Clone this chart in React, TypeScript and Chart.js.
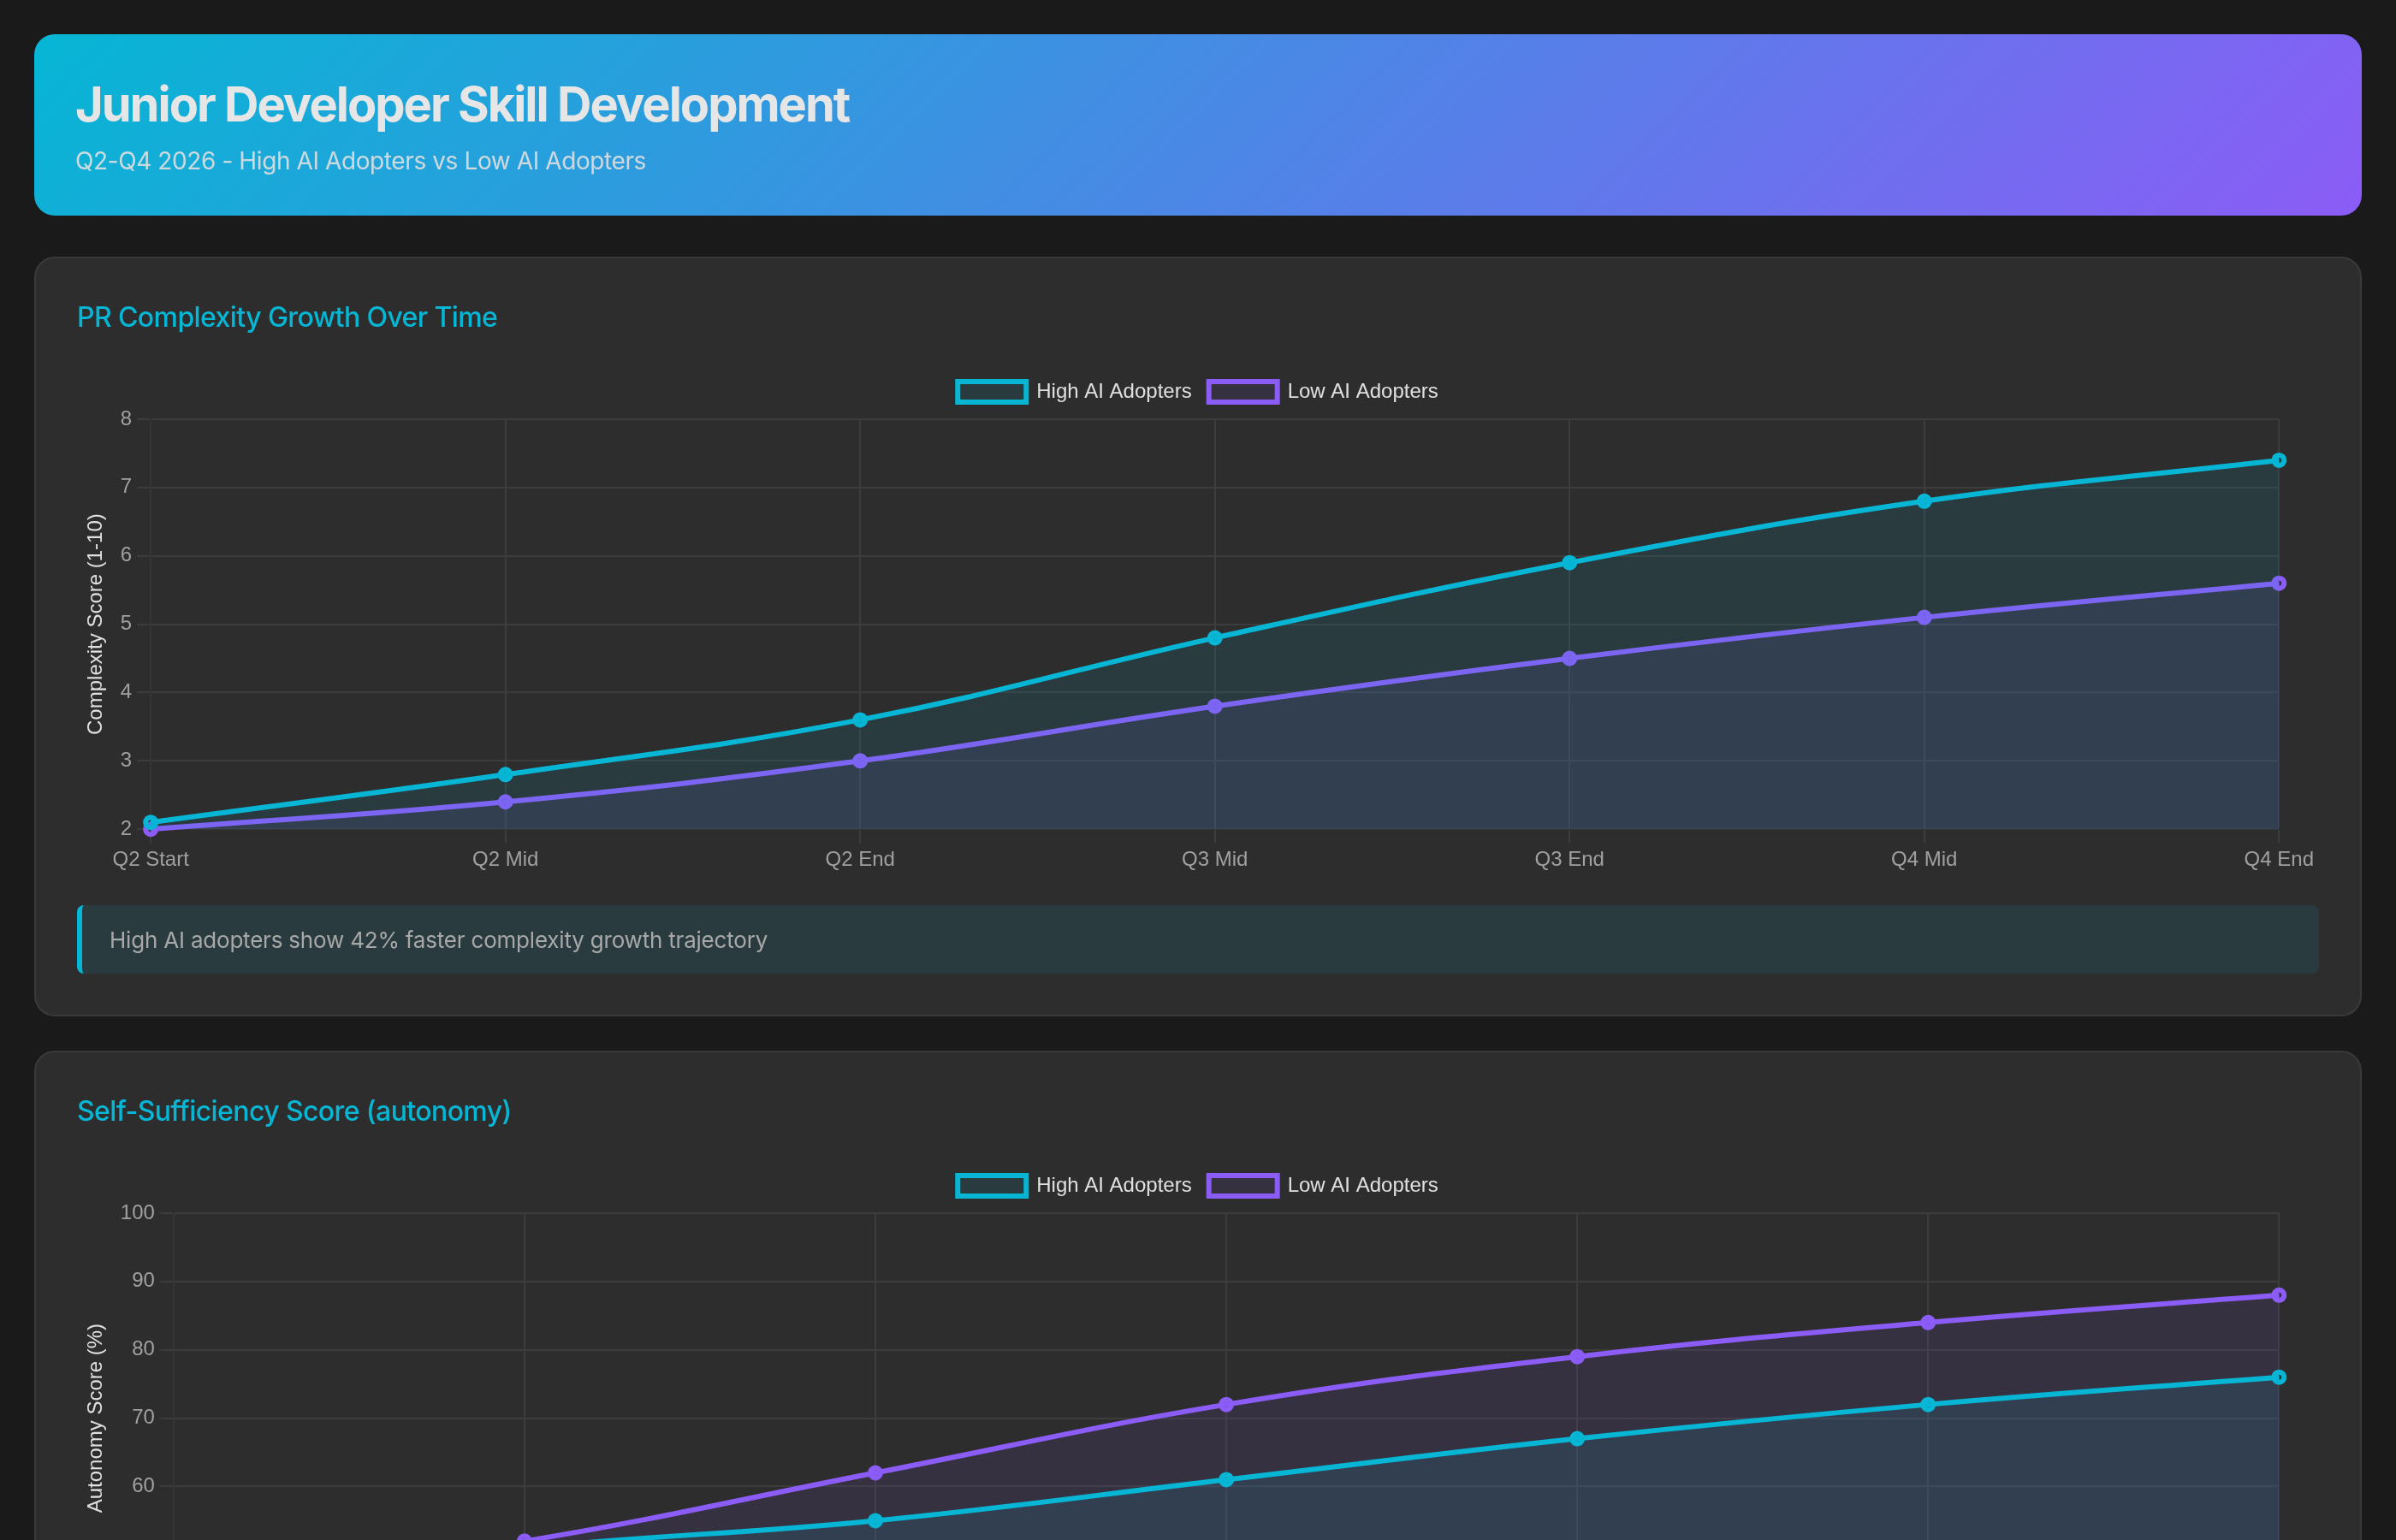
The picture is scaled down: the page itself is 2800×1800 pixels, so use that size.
import React, { useEffect, useRef } from "react";
import { Chart, registerables } from "chart.js";

Chart.register(...registerables);

// Timeline checkpoints across Q2-Q4 2026
const periods = ["Q2 Start", "Q2 Mid", "Q2 End", "Q3 Mid", "Q3 End", "Q4 Mid", "Q4 End"];
const seriesNames = ["High AI Adopters", "Low AI Adopters"];

// PR complexity score (1-10)
const complexityHigh = [2.1, 2.8, 3.6, 4.8, 5.9, 6.8, 7.4];
const complexityLow = [2.0, 2.4, 3.0, 3.8, 4.5, 5.1, 5.6];

// Self-sufficiency / autonomy score (%)
const autonomyHigh = [45, 51, 55, 61, 67, 72, 76];
const autonomyLow = [45, 52, 62, 72, 79, 84, 88];

const CYAN = "#06b6d4";
const VIOLET = "#8b5cf6";
const CYAN_FILL = "rgba(6, 182, 212, 0.1)";
const VIOLET_FILL = "rgba(139, 92, 246, 0.1)";
const GRID = "#3c3c3c";

Chart.defaults.font.family = "'Helvetica Neue', Helvetica, Arial, 'Liberation Sans', sans-serif";

type TrendProps = {
  high: number[];
  low: number[];
  yTitle: string;
  yMin?: number;
  yMax?: number;
};

function TrendChart({ high, low, yTitle, yMin, yMax }: TrendProps) {
  const canvasRef = useRef<HTMLCanvasElement | null>(null);

  useEffect(() => {
    const canvas = canvasRef.current;
    if (!canvas) return;
    const chart = new Chart(canvas, {
      type: "line",
      data: {
        labels: periods,
        datasets: [
          {
            label: seriesNames[0],
            data: high,
            borderColor: CYAN,
            backgroundColor: CYAN_FILL,
            borderWidth: 3,
            fill: true,
            tension: 0.4,
          },
          {
            label: seriesNames[1],
            data: low,
            borderColor: VIOLET,
            backgroundColor: VIOLET_FILL,
            borderWidth: 3,
            fill: true,
            tension: 0.4,
          },
        ],
      },
      options: {
        responsive: true,
        maintainAspectRatio: false,
        animation: false,
        devicePixelRatio: 2,
        plugins: {
          legend: { labels: { color: "#e0e0e0" } },
        },
        scales: {
          x: {
            ticks: { color: "#a0a0a0" },
            grid: { color: GRID },
          },
          y: {
            min: yMin,
            max: yMax,
            title: { display: true, text: yTitle, color: "#e0e0e0" },
            ticks: { color: "#a0a0a0" },
            grid: { color: GRID },
          },
        },
      },
    });
    return () => chart.destroy();
  }, [high, low, yTitle, yMin, yMax]);

  return (
    <div style={{ position: "relative", height: 300 }}>
      <canvas ref={canvasRef} />
    </div>
  );
}

const cardStyle: React.CSSProperties = {
  background: "#2d2d2d",
  border: "1px solid #3a3a3a",
  borderRadius: 12,
  padding: 24,
  marginBottom: 20,
};

const cardTitleStyle: React.CSSProperties = {
  margin: "0 0 18px",
  fontSize: 16,
  fontWeight: 500,
  letterSpacing: "-0.3px",
  lineHeight: "20px",
  color: CYAN,
};

export default function App() {
  return (
    <div
      style={{
        position: "fixed",
        left: 0,
        top: 0,
        width: 2800,
        height: 1800,
        overflow: "hidden",
        background: "#1a1a1a",
      }}
    >
      <div
        style={{
          width: 1400,
          boxSizing: "border-box",
          padding: 20,
          transform: "scale(2)",
          transformOrigin: "0 0",
          fontFamily: "Inter, 'Noto Sans', Roboto, sans-serif",
          color: "#e0e0e0",
        }}
      >
        <header
          style={{
            background: "linear-gradient(135deg, #06b6d4 0%, #8b5cf6 100%)",
            borderRadius: 12,
            padding: 24,
            marginBottom: 24,
          }}
        >
          <h1
            style={{
              margin: "1px 0 7px",
              fontSize: 28,
              fontWeight: 700,
              lineHeight: 1.2,
              letterSpacing: "-1px",
              color: "#e6e6e6",
            }}
          >
            Junior Developer Skill Development
          </h1>
          <p style={{ margin: 0, fontSize: 14, lineHeight: 1.2, letterSpacing: "-0.2px", opacity: 0.9 }}>
            Q2-Q4 2026 - High AI Adopters vs Low AI Adopters
          </p>
        </header>

        <section style={cardStyle}>
          <h2 style={cardTitleStyle}>PR Complexity Growth Over Time</h2>
          <TrendChart high={complexityHigh} low={complexityLow} yTitle="Complexity Score (1-10)" />
          <div
            style={{
              marginTop: 16,
              background: "rgba(6, 182, 212, 0.1)",
              borderLeft: `3px solid ${CYAN}`,
              borderRadius: 4,
              padding: "12px 16px",
              fontSize: 13,
              lineHeight: "16px",
              letterSpacing: "-0.1px",
              color: "#a8a8a8",
            }}
          >
            High AI adopters show 42% faster complexity growth trajectory
          </div>
        </section>

        <section style={cardStyle}>
          <h2 style={cardTitleStyle}>Self-Sufficiency Score (autonomy)</h2>
          <TrendChart
            high={autonomyHigh}
            low={autonomyLow}
            yTitle="Autonomy Score (%)"
            yMin={40}
            yMax={100}
          />
        </section>
      </div>
    </div>
  );
}
